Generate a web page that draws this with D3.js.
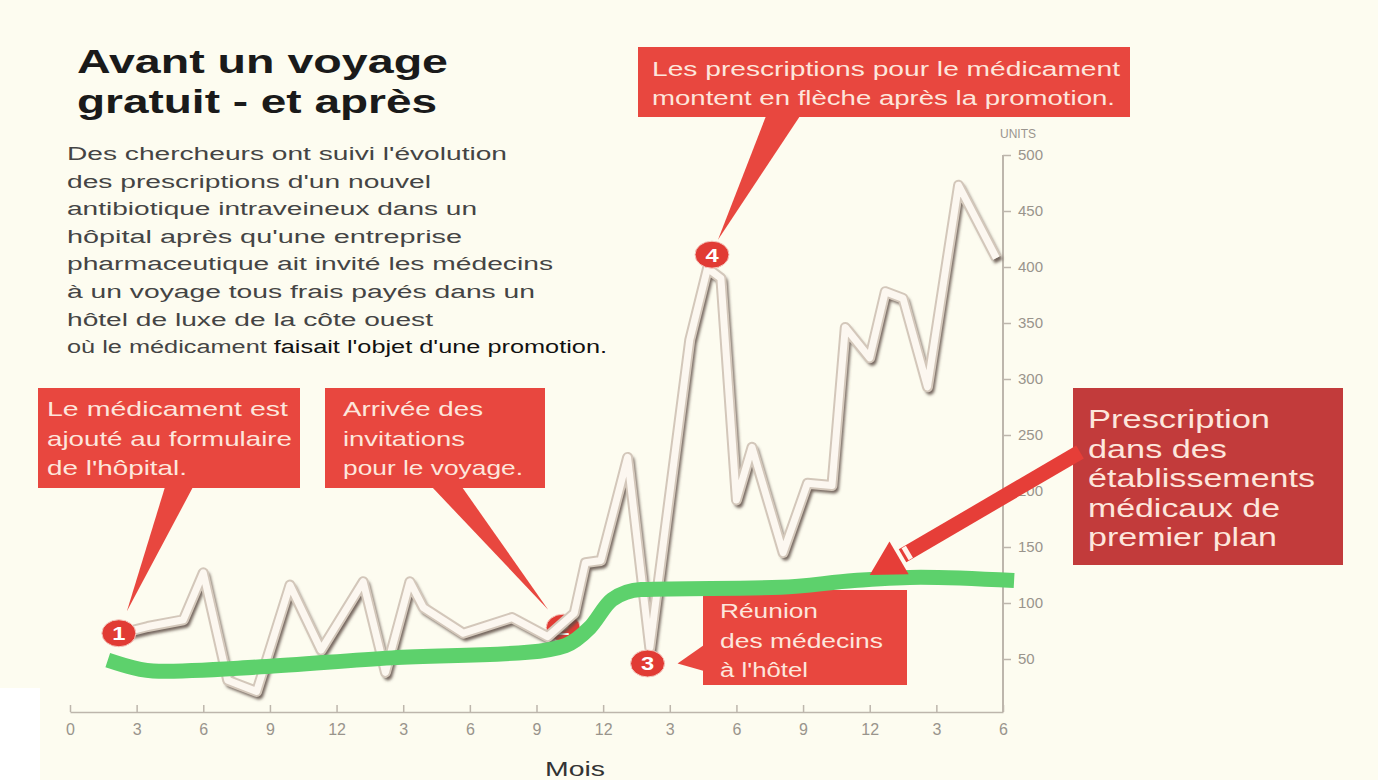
<!DOCTYPE html>
<html>
<head>
<meta charset="utf-8">
<script src="https://cdn.jsdelivr.net/npm/d3@7"></script>
<style>
  body { margin: 0; background: #fdfcf0; }
  svg { display: block; font-family: "Liberation Sans", Arial, sans-serif; }
</style>
</head>
<body>
<div id="chart"></div>
<script>
// axis ticks
var monthTicks = [0, 3, 6, 9, 12, 15, 18, 21, 24, 27, 30, 33, 36, 39, 42];
var monthLabels = ["0", "3", "6", "9", "12", "3", "6", "9", "12", "3", "6", "9", "12", "3", "6"];
var unitTicks = [50, 100, 150, 200, 250, 300, 350, 400, 450, 500];

// hospital prescriptions (white line)
var hospMonths = [2.3, 3.5, 5.1, 6.0, 7.1, 8.4, 9.9, 11.3, 13.2, 14.2, 15.3, 15.9, 17.7, 19.9, 21.5, 22.7, 23.2, 23.9, 25.1, 26.1, 27.9, 28.7, 29.3, 30.0, 30.7, 32.1, 33.2, 34.3, 34.9, 36.0, 36.7, 37.5, 38.6, 40.0, 41.7];
var hospUnits = [73, 79, 85, 127, 31, 21, 116, 58, 119, 38, 119, 96, 73, 87, 70, 91, 136, 138, 230, 60, 335, 399, 390, 192, 239, 145, 207, 205, 346, 319, 378, 372, 293, 473, 408];

// leading medical centres (green line)
var leadMonths = [1.7, 4.0, 8.6, 14.5, 20.6, 22.3, 23.4, 24.4, 25.7, 32.0, 35.3, 38.3, 42.5];
var leadUnits = [49, 39, 43, 51, 56, 62, 78, 103, 112, 114, 120, 123, 120];

// numbered events
var markerLabels = ["1", "2", "3", "4"];
var markerMonths = [2.2, 22.2, 26.0, 28.9];
var markerUnits = [73, 78, 46, 411];

var titleLines = ["Avant un voyage", "gratuit - et après"];
var introLines = [
  "Des chercheurs ont suivi l'évolution",
  "des prescriptions d'un nouvel",
  "antibiotique intraveineux dans un",
  "hôpital après qu'une entreprise",
  "pharmaceutique ait invité les médecins",
  "à un voyage tous frais payés dans un",
  "hôtel de luxe de la côte ouest"
];
var introLast = ["où le médicament ", "faisait l'objet d'une promotion."];

var note1 = ["Le médicament est", "ajouté au formulaire", "de l'hôpital."];
var note2 = ["Arrivée des", "invitations", "pour le voyage."];
var note3 = ["Réunion", "des médecins", "à l'hôtel"];
var note4 = ["Les prescriptions pour le médicament", "montent en flèche après la promotion."];
var noteLead = ["Prescription", "dans des", "établissements", "médicaux de", "premier plan"];

var W = 1378, H = 780;
var svg = d3.select("#chart").append("svg")
  .attr("width", W).attr("height", H);

svg.append("rect").attr("width", W).attr("height", H).attr("fill", "#fdfcf0");
svg.append("rect").attr("x", 0).attr("y", 688).attr("width", 40).attr("height", 92).attr("fill", "#ffffff");

var defs = svg.append("defs");
defs.append("filter").attr("id", "soft")
  .attr("x", "-5%").attr("y", "-5%").attr("width", "110%").attr("height", "110%")
  .append("feGaussianBlur").attr("stdDeviation", 1.8);

var x = d3.scaleLinear().domain([0, 42]).range([70, 1003]);
var y = d3.scaleLinear().domain([0, 500]).range([715, 155]);

// helper: text line stretched to a given width (the source picture is wide)
function stretchText(g, str, tx, ty, w, size, color, weight) {
  return g.append("text")
    .attr("x", tx).attr("y", ty)
    .attr("textLength", w).attr("lengthAdjust", "spacingAndGlyphs")
    .attr("font-size", size).attr("fill", color)
    .attr("font-weight", weight || "normal")
    .text(str);
}

// title + intro
var head = svg.append("g");
var titleW = [371, 360];
titleLines.forEach(function(t, i) {
  stretchText(head, t, 77, 73 + i * 40, titleW[i], 33, "#1a1a1a", "bold");
});
var introW = [440, 364, 410, 395, 486, 468, 366];
introLines.forEach(function(t, i) {
  stretchText(head, t, 67, 160 + i * 27.6, introW[i], 18, "#444");
});
var last = head.append("text")
  .attr("x", 67).attr("y", 353)
  .attr("textLength", 540).attr("lengthAdjust", "spacingAndGlyphs")
  .attr("font-size", 18);
last.append("tspan").attr("fill", "#444").text(introLast[0]);
last.append("tspan").attr("fill", "#111").text(introLast[1]);

// axes
var axisColor = "#bdb6ac", tickText = "#99948c";

var xAxis = d3.axisBottom(x)
  .tickValues(monthTicks)
  .tickFormat(function(d, i) { return monthLabels[i]; })
  .tickSizeInner(-7).tickSizeOuter(0).tickPadding(12);
var gx = svg.append("g").attr("transform", "translate(0,712)").call(xAxis);
gx.select(".domain").attr("stroke", axisColor).attr("stroke-width", 1.5);
gx.selectAll(".tick line").attr("stroke", axisColor).attr("stroke-width", 1.5);
gx.selectAll(".tick text").attr("fill", tickText).attr("font-size", 16)
  .attr("font-family", "Liberation Sans, Arial, sans-serif");

var yAxis = d3.axisRight(y).tickValues(unitTicks).tickSize(8).tickPadding(7);
var gy = svg.append("g").attr("transform", "translate(1003,0)").call(yAxis);
gy.select(".domain").remove();
gy.selectAll(".tick line").attr("stroke", axisColor).attr("stroke-width", 1.5);
gy.selectAll(".tick text").attr("fill", tickText).attr("font-size", 15)
  .attr("font-family", "Liberation Sans, Arial, sans-serif");
svg.append("line")
  .attr("x1", 1003).attr("x2", 1003).attr("y1", y(500)).attr("y2", 712)
  .attr("stroke", axisColor).attr("stroke-width", 2);

stretchText(svg, "UNITS", 1000, 138, 36, 12, "#9a958e");
stretchText(svg, "Mois", 545, 776, 60, 21, "#333");

// callouts
var red = "#e8473f", darkRed = "#c23b3b", noteText = "#fde6dc";

function callout(box, lines, widths, size, fill, pointer) {
  var g = svg.append("g");
  g.append("rect")
    .attr("x", box.x).attr("y", box.y).attr("width", box.w).attr("height", box.h)
    .attr("fill", fill);
  if (pointer) {
    g.append("path").attr("d", d3.line()(pointer)).attr("fill", fill);
  }
  lines.forEach(function(t, i) {
    stretchText(g, t, box.tx, box.ty + i * box.lh, widths[i], size, noteText);
  });
  return g;
}

function mx(i) { return x(markerMonths[i]); }
function my(i) { return y(markerUnits[i]); }

callout({x: 38, y: 388, w: 262, h: 100, tx: 47, ty: 416, lh: 29.5},
  note1, [241, 245, 140], 21, red,
  [[165, 487], [193, 487], [mx(0) + 8, my(0) - 22]]);

callout({x: 325, y: 388, w: 220, h: 100, tx: 343, ty: 416, lh: 29.5},
  note2, [140, 122, 180], 21, red,
  [[432, 487], [462, 487], [mx(1) - 15, my(1) - 18]]);

callout({x: 638, y: 47, w: 492, h: 70, tx: 652, ty: 76, lh: 29},
  note4, [468, 463], 20, red,
  [[766, 116], [800, 116], [mx(3) + 6, my(3) - 15]]);

// event markers
function marker(i) {
  var g = svg.append("g").attr("transform", "translate(" + mx(i) + "," + my(i) + ")");
  g.append("ellipse").attr("rx", 17).attr("ry", 13.5)
    .attr("fill", "#e13b34").attr("stroke", "#f4c9bf").attr("stroke-width", 1);
  g.append("text").attr("text-anchor", "middle").attr("y", 7)
    .attr("font-size", 19).attr("font-weight", "bold").attr("fill", "#fff")
    .attr("transform", "scale(1.25,1)")
    .text(markerLabels[i]);
}
marker(1);

// hospital line: shadow, rim, light fill
var hosp = hospMonths.map(function(m, i) { return {m: m, v: hospUnits[i]}; });
var hospLine = d3.line().x(function(d) { return x(d.m); }).y(function(d) { return y(d.v); });

svg.append("path").datum(hosp).attr("d", hospLine)
  .attr("fill", "none").attr("stroke", "#5e4e44").attr("stroke-opacity", 0.85)
  .attr("stroke-width", 9).attr("stroke-linejoin", "round")
  .attr("transform", "translate(2.5,3.5)").attr("filter", "url(#soft)");
svg.append("path").datum(hosp).attr("d", hospLine)
  .attr("fill", "none").attr("stroke", "#d3c7ba")
  .attr("stroke-width", 11).attr("stroke-linejoin", "round");
svg.append("path").datum(hosp).attr("d", hospLine)
  .attr("fill", "none").attr("stroke", "#fcf7f0")
  .attr("stroke-width", 7).attr("stroke-linejoin", "round");

callout({x: 703, y: 590, w: 204, h: 95, tx: 720, ty: 618, lh: 29.5},
  note3, [98, 163, 88], 20, red,
  [[704, 645], [704, 671], [mx(2) + 30, my(2)]]);

// leading centres line
var lead = leadMonths.map(function(m, i) { return {m: m, v: leadUnits[i]}; });
svg.append("path").datum(lead)
  .attr("d", d3.line().curve(d3.curveMonotoneX)
    .x(function(d) { return x(d.m); }).y(function(d) { return y(d.v); }))
  .attr("fill", "none").attr("stroke", "#5dd16c").attr("stroke-width", 15);

// right note + arrow to the green line
callout({x: 1073, y: 388, w: 270, h: 177, tx: 1088, ty: 428, lh: 29.6},
  noteLead, [182, 139, 227, 192, 189], 26, darkRed, null);

var tip = [x(36), y(125)];
var tail = [1080, 452];
var dx = tail[0] - tip[0], dy = tail[1] - tip[1];
var len = Math.sqrt(dx * dx + dy * dy);
var ux = dx / len, uy = dy / len, px = -uy, py = ux;
var headLen = 34, headW = 19;
var base = [tip[0] + ux * headLen, tip[1] + uy * headLen];
svg.append("line")
  .attr("x1", base[0] + ux * 4).attr("y1", base[1] + uy * 4)
  .attr("x2", tail[0]).attr("y2", tail[1])
  .attr("stroke", "#e63e38").attr("stroke-width", 15);
svg.append("path")
  .attr("d", d3.line()([tip, [base[0] + px * headW, base[1] + py * headW], [base[0] - px * headW, base[1] - py * headW]]))
  .attr("fill", "#e63e38");
var notch = [base[0] + ux * 7, base[1] + uy * 7];
svg.append("path")
  .attr("d", d3.line()([
    [notch[0] + px * 7, notch[1] + py * 7],
    [notch[0] + px * 7 + ux * 5, notch[1] + py * 7 + uy * 5],
    [notch[0] - px * 7 + ux * 5, notch[1] - py * 7 + uy * 5],
    [notch[0] - px * 7, notch[1] - py * 7]]))
  .attr("fill", "#fff4ec");

marker(0);
marker(2);
marker(3);
</script>
</body>
</html>
